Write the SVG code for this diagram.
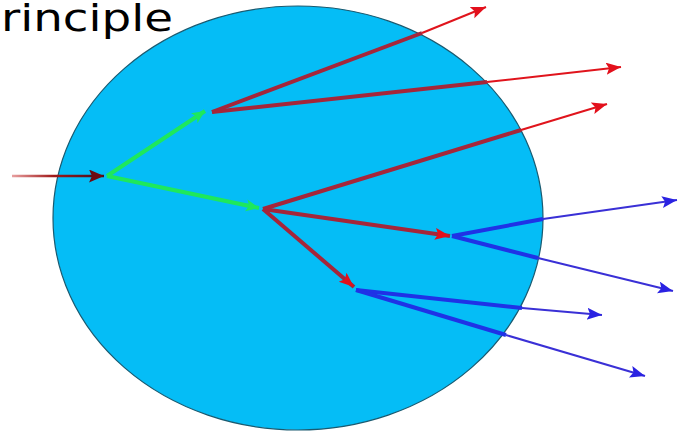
<svg xmlns="http://www.w3.org/2000/svg" width="681" height="435" viewBox="0 0 681 435">
<style>
.ri{stroke:#a5263a;stroke-width:4;fill:none}
.ro{stroke:#e0141c;stroke-width:2;fill:none}
.bi{stroke:#1f32e6;stroke-width:4;fill:none}
.bo{stroke:#3a30d6;stroke-width:2;fill:none}
.g{stroke:#1ee85c;stroke-width:4;fill:none}
.lbl{font-family:"DejaVu Sans",Verdana,sans-serif;font-size:38px;fill:#000}
</style>
<defs>
<marker id="mr" markerUnits="userSpaceOnUse" markerWidth="18" markerHeight="14" refX="15" refY="6" orient="auto"><path d="M0,0 L15,6 L0,12 L3,6 z" fill="#e3101c"/></marker>
<marker id="mb" markerUnits="userSpaceOnUse" markerWidth="18" markerHeight="14" refX="15" refY="6" orient="auto"><path d="M0,0 L15,6 L0,12 L3,6 z" fill="#2a22e2"/></marker>
<marker id="mg" markerUnits="userSpaceOnUse" markerWidth="16" markerHeight="14" refX="13" refY="6" orient="auto"><path d="M0,0 L13,6 L0,12 L3,6 z" fill="#1ee85c"/></marker>
<marker id="md" markerUnits="userSpaceOnUse" markerWidth="18" markerHeight="14" refX="15" refY="6.5" orient="auto"><path d="M0,0 L15,6.5 L0,13 L3,6.5 z" fill="#6e0a12"/></marker>
<linearGradient id="gin" x1="12" y1="0" x2="105" y2="0" gradientUnits="userSpaceOnUse"><stop offset="0" stop-color="#e8a0a0"/><stop offset="0.45" stop-color="#a01818"/><stop offset="1" stop-color="#3a1020"/></linearGradient>
</defs>
<g id="body"><ellipse cx="298" cy="218" rx="245" ry="212" fill="#05bdf6" stroke="#1a5a70" stroke-width="1.2"/></g>
<g id="title"><text class="lbl" x="1" y="31" textLength="172" lengthAdjust="spacingAndGlyphs">rinciple</text></g>
<g id="connectors">
<line x1="12" y1="176" x2="104" y2="176" stroke="url(#gin)" stroke-width="2.5" marker-end="url(#md)"/>
<line class="g" x1="107" y1="176" x2="205" y2="111" marker-end="url(#mg)"/>
<line class="g" x1="107" y1="176" x2="259" y2="208" marker-end="url(#mg)"/>
<line class="ri" x1="212" y1="112" x2="422" y2="33"/>
<line class="ro" x1="422" y1="33" x2="486" y2="7" marker-end="url(#mr)"/>
<line class="ri" x1="212" y1="112" x2="487" y2="82"/>
<line class="ro" x1="487" y1="82" x2="621" y2="67" marker-end="url(#mr)"/>
<line class="ri" x1="263" y1="209" x2="521" y2="130"/>
<line class="ro" x1="521" y1="130" x2="607" y2="104" marker-end="url(#mr)"/>
<line class="ri" x1="263" y1="209" x2="450" y2="236" marker-end="url(#mr)"/>
<line class="ri" x1="263" y1="209" x2="354" y2="287" marker-end="url(#mr)"/>
<line class="bi" x1="452" y1="236" x2="543" y2="219"/>
<line class="bo" x1="543" y1="219" x2="677" y2="200" marker-end="url(#mb)"/>
<line class="bi" x1="452" y1="236" x2="538" y2="258"/>
<line class="bo" x1="538" y1="258" x2="673" y2="291" marker-end="url(#mb)"/>
<line class="bi" x1="356" y1="290" x2="522" y2="308"/>
<line class="bo" x1="522" y1="308" x2="602" y2="315" marker-end="url(#mb)"/>
<line class="bi" x1="356" y1="290" x2="506" y2="335"/>
<line class="bo" x1="506" y1="335" x2="645" y2="376" marker-end="url(#mb)"/>
</g>
</svg>
